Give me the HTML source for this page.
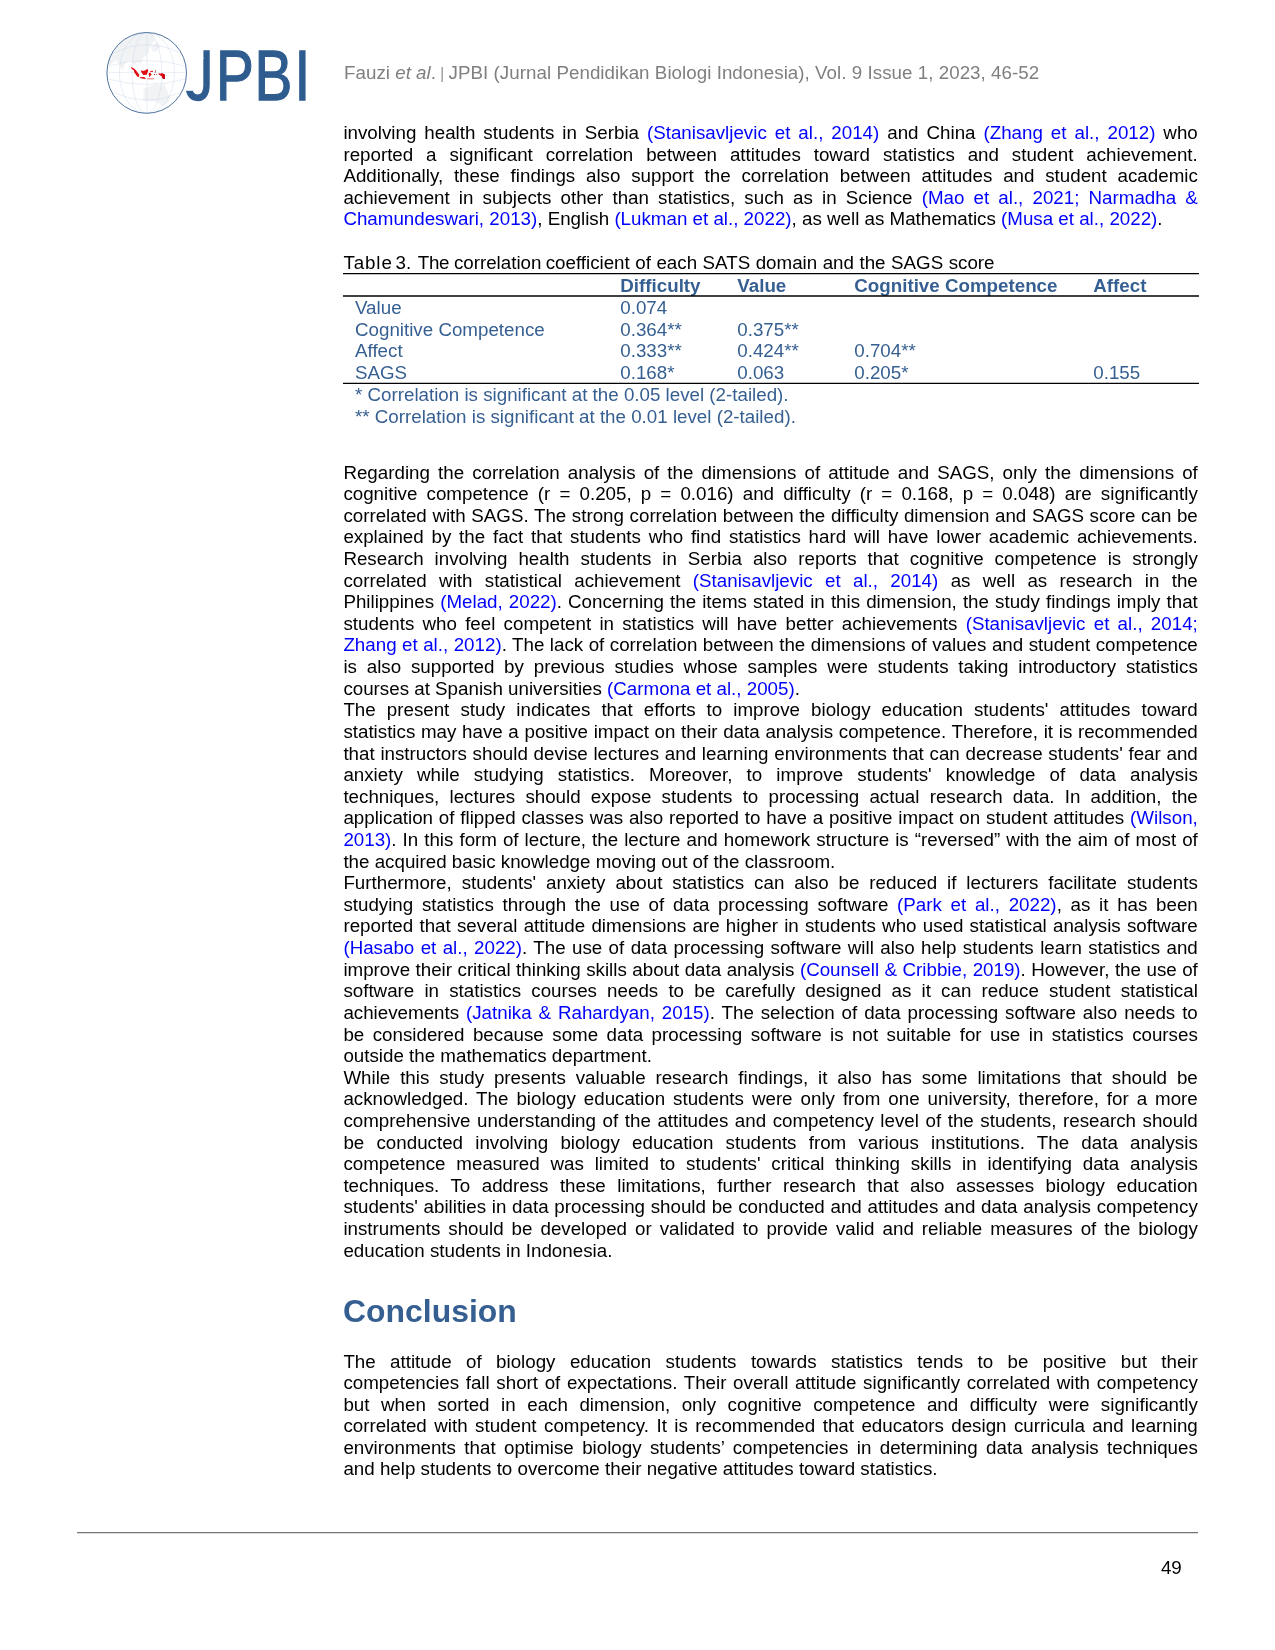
<!DOCTYPE html>
<html lang="en"><head><meta charset="utf-8"><title>JPBI page 49</title>
<style>
html,body{margin:0;padding:0;background:#fff}
body{width:1275px;height:1650px;position:relative;overflow:hidden;font-family:"Liberation Sans",sans-serif;font-size:18.75px;color:#000}
.l{position:absolute;left:343.4px;height:20px;line-height:20px;white-space:nowrap;font-size:18.75px}
.a{color:#0000ff}
.abs{position:absolute;white-space:nowrap}
.hdr{left:344.1px;top:62.8px;letter-spacing:0.01px;height:20px;line-height:20px;color:#7f7f7f;font-size:18.75px}
.rule{position:absolute;background:#000}
.t{color:#365f91;height:20px;line-height:20px;font-size:18.75px}
.tb{font-weight:bold}
h2{position:absolute;margin:0;left:343.1px;top:1292.8px;height:36px;line-height:36px;font-size:31.9px;font-weight:bold;color:#365f91;white-space:nowrap}
.pn{left:1160.9px;top:1557.5px;height:20px;line-height:20px;font-size:18.75px}
#page{position:absolute;left:0;top:0;width:1275px;height:1650px;will-change:transform}

</style></head>
<body>
<div id="page">
<svg class="abs" style="left:100px;top:26px" width="215" height="94" viewBox="100 26 215 94">
<defs><clipPath id="gc"><ellipse cx="146.7" cy="72.9" rx="39.6" ry="40.2"/></clipPath></defs>
<text transform="scale(0.8,1)" x="231.3 270 318 368" y="100.05" font-family="'Liberation Sans', sans-serif" font-size="70.9" fill="#2f5c8f" stroke="#2f5c8f" stroke-width="1.3">JPBI</text>
<rect x="189" y="45" width="14.4" height="13.8" fill="#fff"/>
<rect x="182" y="82" width="10.7" height="8.8" fill="#fff"/>
<ellipse cx="146.7" cy="72.9" rx="39.8" ry="40.4" fill="#fff"/>
<g clip-path="url(#gc)">
<path d="M147 33 L128 36 L113 48 L107 62 L109 66 L116 60 L119 64 L122 70 L126 62 L131 60 L134 66 L137 62 L141 64 L143 58 L148 54 L150 46 L155 40 L153 34 Z" fill="#f0f2f4"/>
<path d="M151 46 L158 42 L160 47 L156 52 L152 51 Z" fill="#f0f2f5"/>
<path d="M143.5 89 L150 86 L156 84 L160 85 L164 83 L167 90 L170 97 L168 103 L162 106 L157 102 L150 101 L143.5 101 Z" fill="#f1f3f5"/>
<g fill="none" stroke="#d0dcec" stroke-width="0.5">
<path d="M106.5 72.4 H187"/>
<path d="M147 32 V114"/>
<ellipse cx="146.9" cy="72.9" rx="14.9" ry="40.4"/>
<ellipse cx="146.9" cy="72.9" rx="27.5" ry="40.4"/>
<path d="M108.6 66 Q147 55 185.2 66"/>
<path d="M115 52.5 Q147 37 179 52.5"/>
<path d="M108.6 79.2 Q147 89.5 185.2 79.2"/>
<path d="M115 93 Q147 107.5 179 93"/>
</g>
<g fill="#e20a13">
<path d="M131.2 67.2 L133.2 67.9 L136 70.3 L137.7 72.7 L139.3 74.8 L139.1 76.8 L137.4 76.8 L136 74.8 L134.3 72.4 L133.8 70.3 L131.9 68.9 L131 67.7 Z"/>
<path d="M139.6 77.2 L143.9 77 L145.8 78.2 L145.7 78.9 L143.3 78.7 L139.8 77.9 Z"/>
<path d="M141 70.3 L143.3 71 L145.3 70.3 L147.4 68.9 L148.3 70.3 L147.6 72.4 L146.7 74.8 L143.3 74.9 L141.9 73 L141.2 71.7 Z"/>
<path d="M148.9 73 L150.5 72.7 L151.7 75.1 L150.2 75.8 L149.8 76.8 L148.9 76.7 L149.1 75.1 L148.6 74.2 Z"/>
<path d="M150 71 L152.9 70.8 L152.9 72 L150.2 71.8 Z"/>
<path d="M158.6 73 L160.2 73.7 L162.2 73 L165 74.8 L165 78.9 L162.2 78.6 L161.9 76.5 L160.2 75.5 L158.8 74.4 Z"/>
<path d="M147 78 L154.6 78 L153.6 79.4 L147.2 79.6 Z" fill="#f3a0a4"/>
<path d="M155 70.1 H155.8 V72.7 H155 Z" fill="#b0506a"/>
<path d="M154 74.1 H155 V75.1 H154 Z M156 74.1 H157 V74.8 H156 Z" fill="#b8232e"/>
</g>
<path d="M162.8 74 L165 74.8 L165 78.9 L163 78.7 Z" fill="#c00d18"/>
</g>
<ellipse cx="146.7" cy="72.9" rx="39.8" ry="40.4" fill="none" stroke="#3b6294" stroke-width="0.9"/>
</svg>
<div class="abs hdr">Fauzi <i>et al</i>.<span style="font-size:16.67px;word-spacing:-0.5px;color:#999"> | </span><span style="letter-spacing:0.039px">JPBI (Jurnal Pendidikan Biologi Indonesia), Vol. 9 Issue 1, 2023, 46-52</span></div>
<div class="l" id="l0" style="top:123.10px;word-spacing:2.759px">involving health students in Serbia <span class="a">(Stanisavljevic et al., 2014)</span> and China <span class="a">(Zhang et al., 2012)</span> who</div>
<div class="l" id="l1" style="top:144.66px;word-spacing:7.687px">reported a significant correlation between attitudes toward statistics and student achievement.</div>
<div class="l" id="l2" style="top:166.22px;word-spacing:5.595px">Additionally, these findings also support the correlation between attitudes and student academic</div>
<div class="l" id="l3" style="top:187.78px;word-spacing:3.945px">achievement in subjects other than statistics, such as in Science <span class="a">(Mao et al., 2021; Narmadha &amp;</span></div>
<div class="l" id="l4" style="top:209.34px"><span class="a">Chamundeswari, 2013)</span>, English <span class="a">(Lukman et al., 2022)</span>, as well as Mathematics <span class="a">(Musa et al., 2022)</span>.</div>
<div class="l" id="l5" style="top:462.50px;word-spacing:2.885px">Regarding the correlation analysis of the dimensions of attitude and SAGS, only the dimensions of</div>
<div class="l" id="l6" style="top:484.12px;word-spacing:3.928px">cognitive competence (r = 0.205, p = 0.016) and difficulty (r = 0.168, p = 0.048) are significantly</div>
<div class="l" id="l7" style="top:505.73px;word-spacing:0.405px">correlated with SAGS. The strong correlation between the difficulty dimension and SAGS score can be</div>
<div class="l" id="l8" style="top:527.35px;word-spacing:2.590px">explained by the fact that students who find statistics hard will have lower academic achievements.</div>
<div class="l" id="l9" style="top:548.97px;word-spacing:5.713px">Research involving health students in Serbia also reports that cognitive competence is strongly</div>
<div class="l" id="l10" style="top:570.59px;word-spacing:7.120px">correlated with statistical achievement <span class="a">(Stanisavljevic et al., 2014)</span> as well as research in the</div>
<div class="l" id="l11" style="top:592.20px;word-spacing:0.876px">Philippines <span class="a">(Melad, 2022)</span>. Concerning the items stated in this dimension, the study findings imply that</div>
<div class="l" id="l12" style="top:613.82px;word-spacing:3.030px">students who feel competent in statistics will have better achievements <span class="a">(Stanisavljevic et al., 2014;</span></div>
<div class="l" id="l13" style="top:635.44px;word-spacing:0.281px"><span class="a">Zhang et al., 2012)</span>. The lack of correlation between the dimensions of values and student competence</div>
<div class="l" id="l14" style="top:657.05px;word-spacing:4.587px">is also supported by previous studies whose samples were students taking introductory statistics</div>
<div class="l" id="l15" style="top:678.67px">courses at Spanish universities <span class="a">(Carmona et al., 2005)</span>.</div>
<div class="l" id="l16" style="top:700.29px;word-spacing:5.874px">The present study indicates that efforts to improve biology education students' attitudes toward</div>
<div class="l" id="l17" style="top:721.90px;word-spacing:0.458px">statistics may have a positive impact on their data analysis competence. Therefore, it is recommended</div>
<div class="l" id="l18" style="top:743.52px;word-spacing:0.506px">that instructors should devise lectures and learning environments that can decrease students' fear and</div>
<div class="l" id="l19" style="top:765.14px;word-spacing:8.941px">anxiety while studying statistics. Moreover, to improve students' knowledge of data analysis</div>
<div class="l" id="l20" style="top:786.75px;word-spacing:5.012px">techniques, lectures should expose students to processing actual research data. In addition, the</div>
<div class="l" id="l21" style="top:808.37px;word-spacing:0.609px">application of flipped classes was also reported to have a positive impact on student attitudes <span class="a">(Wilson,</span></div>
<div class="l" id="l22" style="top:829.99px;word-spacing:0.803px"><span class="a">2013)</span>. In this form of lecture, the lecture and homework structure is “reversed” with the aim of most of</div>
<div class="l" id="l23" style="top:851.61px">the acquired basic knowledge moving out of the classroom.</div>
<div class="l" id="l24" style="top:873.22px;word-spacing:4.722px">Furthermore, students' anxiety about statistics can also be reduced if lecturers facilitate students</div>
<div class="l" id="l25" style="top:894.84px;word-spacing:3.502px">studying statistics through the use of data processing software <span class="a">(Park et al., 2022)</span>, as it has been</div>
<div class="l" id="l26" style="top:916.46px;word-spacing:1.025px">reported that several attitude dimensions are higher in students who used statistical analysis software</div>
<div class="l" id="l27" style="top:938.07px;word-spacing:1.178px"><span class="a">(Hasabo et al., 2022)</span>. The use of data processing software will also help students learn statistics and</div>
<div class="l" id="l28" style="top:959.69px;word-spacing:0.265px">improve their critical thinking skills about data analysis <span class="a">(Counsell &amp; Cribbie, 2019)</span>. However, the use of</div>
<div class="l" id="l29" style="top:981.31px;word-spacing:4.973px">software in statistics courses needs to be carefully designed as it can reduce student statistical</div>
<div class="l" id="l30" style="top:1002.92px;word-spacing:1.688px">achievements <span class="a">(Jatnika &amp; Rahardyan, 2015)</span>. The selection of data processing software also needs to</div>
<div class="l" id="l31" style="top:1024.54px;word-spacing:3.260px">be considered because some data processing software is not suitable for use in statistics courses</div>
<div class="l" id="l32" style="top:1046.16px">outside the mathematics department.</div>
<div class="l" id="l33" style="top:1067.78px;word-spacing:4.675px">While this study presents valuable research findings, it also has some limitations that should be</div>
<div class="l" id="l34" style="top:1089.39px;word-spacing:2.760px">acknowledged. The biology education students were only from one university, therefore, for a more</div>
<div class="l" id="l35" style="top:1111.01px;word-spacing:1.364px">comprehensive understanding of the attitudes and competency level of the students, research should</div>
<div class="l" id="l36" style="top:1132.63px;word-spacing:7.018px">be conducted involving biology education students from various institutions. The data analysis</div>
<div class="l" id="l37" style="top:1154.24px;word-spacing:5.592px">competence measured was limited to students' critical thinking skills in identifying data analysis</div>
<div class="l" id="l38" style="top:1175.86px;word-spacing:6.262px">techniques. To address these limitations, further research that also assesses biology education</div>
<div class="l" id="l39" style="top:1197.48px;word-spacing:0.501px">students' abilities in data processing should be conducted and attitudes and data analysis competency</div>
<div class="l" id="l40" style="top:1219.10px;word-spacing:2.808px">instruments should be developed or validated to provide valid and reliable measures of the biology</div>
<div class="l" id="l41" style="top:1240.71px">education students in Indonesia.</div>
<div class="l" id="l42" style="top:1351.60px;word-spacing:9.199px">The attitude of biology education students towards statistics tends to be positive but their</div>
<div class="l" id="l43" style="top:1373.16px;word-spacing:1.434px">competencies fall short of expectations. Their overall attitude significantly correlated with competency</div>
<div class="l" id="l44" style="top:1394.72px;word-spacing:6.348px">but when sorted in each dimension, only cognitive competence and difficulty were significantly</div>
<div class="l" id="l45" style="top:1416.28px;word-spacing:2.268px">correlated with student competency. It is recommended that educators design curricula and learning</div>
<div class="l" id="l46" style="top:1437.84px;word-spacing:3.171px">environments that optimise biology students’ competencies in determining data analysis techniques</div>
<div class="l" id="l47" style="top:1459.40px">and help students to overcome their negative attitudes toward statistics.</div>
<div class="abs" style="left:343.4px;top:253.1px;height:20px;line-height:20px;word-spacing:0.3px"><span style="letter-spacing:0.9px;word-spacing:-3.3px">Table </span><span style="word-spacing:1.4px">3. </span><span style="letter-spacing:-0.3px;word-spacing:-0.2px">The </span><span style="word-spacing:-1px">correlation </span>coefficient of each SATS domain and the SAGS score</div>
<div class="abs t tb" style="left:620.3px;top:275.8px">Difficulty</div>
<div class="abs t tb" style="left:737.3px;top:275.8px">Value</div>
<div class="abs t tb" style="left:854.3px;top:275.8px">Cognitive Competence</div>
<div class="abs t tb" style="left:1093.3px;top:275.8px">Affect</div>
<div class="abs t" style="left:355px;top:298.3px">Value</div>
<div class="abs t" style="left:620.3px;top:298.3px">0.074</div>
<div class="abs t" style="left:355px;top:319.9px">Cognitive Competence</div>
<div class="abs t" style="left:620.3px;top:319.9px">0.364**</div>
<div class="abs t" style="left:737.3px;top:319.9px">0.375**</div>
<div class="abs t" style="left:355px;top:341.4px">Affect</div>
<div class="abs t" style="left:620.3px;top:341.4px">0.333**</div>
<div class="abs t" style="left:737.3px;top:341.4px">0.424**</div>
<div class="abs t" style="left:854.3px;top:341.4px">0.704**</div>
<div class="abs t" style="left:355px;top:363px">SAGS</div>
<div class="abs t" style="left:620.3px;top:363px">0.168*</div>
<div class="abs t" style="left:737.3px;top:363px">0.063</div>
<div class="abs t" style="left:854.3px;top:363px">0.205*</div>
<div class="abs t" style="left:1093.3px;top:363px">0.155</div>
<div class="abs t" style="left:355px;top:384.9px">* Correlation is significant at the 0.05 level (2-tailed).</div>
<div class="abs t" style="left:355px;top:406.6px">** Correlation is significant at the 0.01 level (2-tailed).</div>
<svg class="abs" style="left:0;top:0" width="1275" height="1650" viewBox="0 0 1275 1650">
<g stroke="#000" stroke-width="1.4" fill="none">
<path d="M343 273.6 H1199"/>
<path d="M343 295.95 H1199"/>
<path d="M343 383.4 H1199"/>
</g>
<path d="M77 1532.65 H1198" stroke="#757575" stroke-width="1.3" fill="none"/>
</svg>
<h2>Conclusion</h2>
<div class="abs pn">49</div>

</div>
</body></html>
